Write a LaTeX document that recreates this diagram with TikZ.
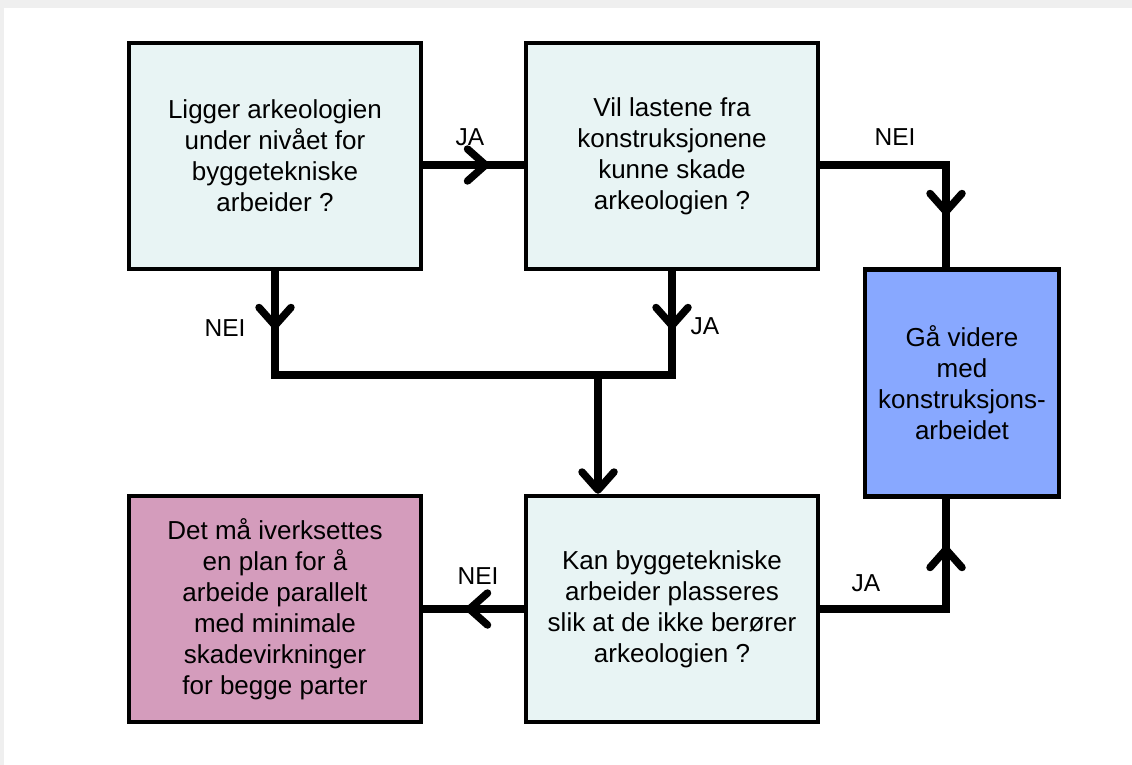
\documentclass[tikz,border=0pt]{standalone}
\usepackage{fontspec}
\setmainfont{Liberation Sans}
\usetikzlibrary{arrows.meta,decorations.markings}
\definecolor{boxfill}{HTML}{E8F4F4}
\definecolor{bluefill}{HTML}{88A8FF}
\definecolor{pinkfill}{HTML}{D49CBC}
\definecolor{shadowgray}{HTML}{EFEFEF}
\tikzset{
  box/.style={draw=black, line width=4.5pt, fill=boxfill, minimum width=292pt, minimum height=226pt, inner sep=0pt, align=center, font=\fontsize{26}{31}\selectfont},
  conn/.style={draw=black, line width=7.5pt, line join=miter},
  lbl/.style={font=\fontsize{24.5}{28}\selectfont, inner sep=0pt},
  barb/.tip={Straight Barb[length=18pt, width=32pt, line cap=round, line join=round]},
  midarrow/.style={postaction={decorate, decoration={markings, mark=at position #1 with {\arrow{barb}}}}}
}
\begin{document}
\begin{tikzpicture}[x=1pt,y=-1pt]
\useasboundingbox (0,0) rectangle (1132,765);
\fill[shadowgray] (0,0) rectangle (1132,765);
\fill[white] (4,8) rectangle (1132,765);

\node[box] (b1) at (275,156) {Ligger arkeologien\\under nivået for\\byggetekniske\\arbeider ?};
\node[box] (b2) at (672,156) {Vil lastene fra\\konstruksjonene\\kunne skade\\arkeologien ?};
\node[box, fill=bluefill, minimum width=194pt, minimum height=227pt] (b3) at (962,383) {Gå videre\\med\\konstruksjons-\\arbeidet};
\node[box, fill=pinkfill] (b4) at (275,609) {Det må iverksettes\\en plan for å\\arbeide parallelt\\med minimale\\skadevirkninger\\for begge parter};
\node[box] (b5) at (672,609) {Kan byggetekniske\\arbeider plasseres\\slik at de ikke berører\\arkeologien ?};

\coordinate (j3) at (598,375);

\draw[conn, midarrow=66pt] ([yshift=-9pt]b1.east) -- ([yshift=-9pt]b2.west);
\draw[conn, midarrow=176pt] ([yshift=-9pt]b2.east) -| ([xshift=-16pt]b3.north);
\draw[conn, midarrow=58pt] (b1.south) |- (j3);
\draw[conn, midarrow=58pt] (b2.south) |- (j3);
\draw[conn, -barb] (j3) -- (j3 |- b5.north);
\draw[conn, midarrow=58pt] (b5.west) -- (b4.east);
\draw[conn, midarrow=189pt] (b5.east) -| ([xshift=-16pt]b3.south);

\node[lbl] (l1) at (470,137) {JA};
\node[lbl] (l2) at (895,137) {NEI};
\node[lbl] (l3) at (225,328) {NEI};
\node[lbl] (l4) at (705,326) {JA};
\node[lbl] (l5) at (478,576) {NEI};
\node[lbl] (l6) at (866,583) {JA};
\end{tikzpicture}
\end{document}
